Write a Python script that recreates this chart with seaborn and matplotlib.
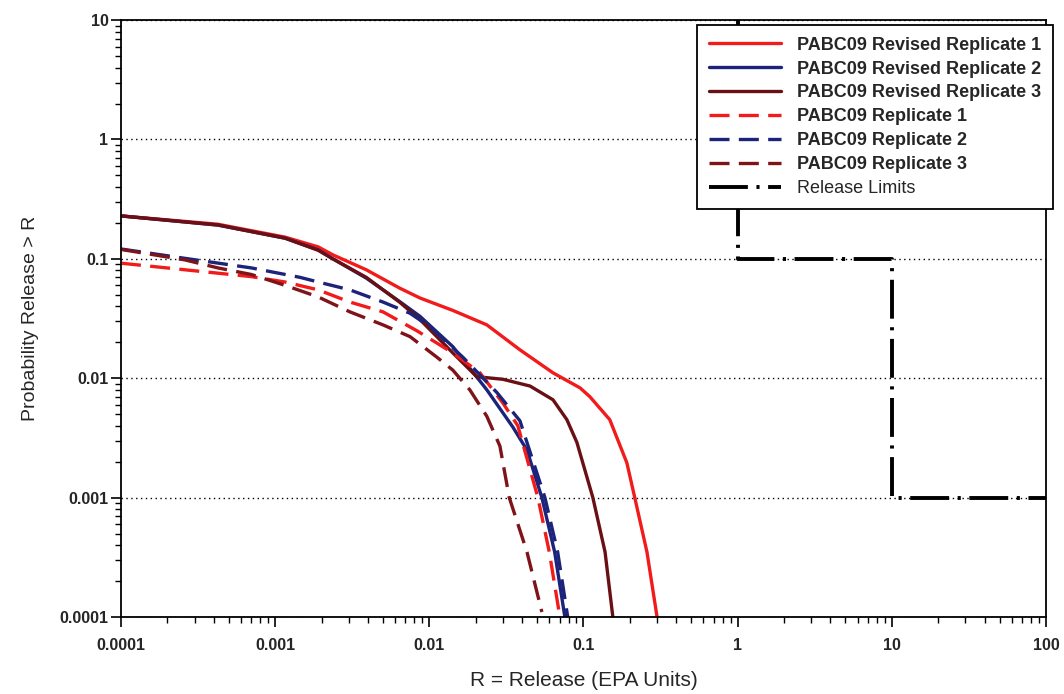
import matplotlib
matplotlib.use("Agg")
import matplotlib.pyplot as plt
import matplotlib.ticker as mticker
import seaborn as sns

# values (x = release, y = probability release > R)
rev1_x = [1e-4, 4.25e-4, 1.16e-3, 1.9e-3, 2.37e-3, 3.9e-3, 6.4e-3, 8.7e-3, 1.42e-2,
          2.36e-2, 3.87e-2, 6.34e-2, 9.5e-2, 1.1e-1, 1.48e-1, 1.91e-1, 2.15e-1, 2.58e-1, 3.0e-1]
rev1_y = [0.229, 0.195, 0.152, 0.126, 0.108, 0.081, 0.057, 0.047, 0.037,
          0.028, 0.0173, 0.0111, 0.0083, 0.0070, 0.0045, 0.00196, 0.001, 0.00035, 0.0001]

rev2_x = [1e-4, 4.25e-4, 1.16e-3, 1.9e-3, 2.37e-3, 3.9e-3, 6.4e-3, 8.7e-3, 1.42e-2,
          2.36e-2, 3.48e-2, 4.3e-2, 5.37e-2, 6.5e-2, 7.57e-2]
rev2_y = [0.229, 0.192, 0.149, 0.119, 0.100, 0.069, 0.044, 0.033, 0.0184,
          0.008, 0.0039, 0.0025, 0.001, 0.00035, 0.0001]

rev3_x = [1e-4, 4.25e-4, 1.16e-3, 1.9e-3, 2.37e-3, 3.9e-3, 6.4e-3, 8.7e-3, 1.42e-2,
          2.03e-2, 3.0e-2, 4.5e-2, 6.34e-2, 7.8e-2, 9.06e-2, 1.15e-1, 1.38e-1, 1.55e-1]
rev3_y = [0.229, 0.192, 0.149, 0.118, 0.100, 0.070, 0.0435, 0.031, 0.0163,
          0.0103, 0.0098, 0.0086, 0.0066, 0.0045, 0.0029, 0.001, 0.00035, 0.0001]

rep1_x = [1e-4, 2.6e-4, 7e-4, 1.16e-3, 1.9e-3, 3.05e-3, 5e-3, 8.3e-3, 1.42e-2,
          2.13e-2, 3.0e-2, 3.75e-2, 5.06e-2, 6.0e-2, 7.03e-2]
rep1_y = [0.092, 0.081, 0.071, 0.064, 0.055, 0.0435, 0.036, 0.025, 0.0163,
          0.0111, 0.0062, 0.004, 0.001, 0.00035, 0.0001]

rep2_x = [1e-4, 2.6e-4, 7e-4, 1.45e-3, 1.9e-3, 3.05e-3, 5e-3, 7.5e-3, 1.01e-2,
          1.65e-2, 2.74e-2, 3.87e-2, 5.62e-2, 6.8e-2, 7.9e-2]
rep2_y = [0.121, 0.101, 0.084, 0.070, 0.064, 0.055, 0.0435, 0.035, 0.027,
          0.015, 0.0076, 0.0044, 0.001, 0.00035, 0.0001]

rep3_x = [1e-4, 2.6e-4, 4.25e-4, 7e-4, 1.16e-3, 1.9e-3, 3.05e-3, 5e-3, 7.5e-3,
          1.12e-2, 1.42e-2, 1.83e-2, 2.36e-2, 2.87e-2, 3.3e-2, 4.3e-2, 5.37e-2]
rep3_y = [0.120, 0.098, 0.084, 0.074, 0.060, 0.048, 0.036, 0.028, 0.0223,
          0.015, 0.0117, 0.008, 0.0048, 0.0027, 0.001, 0.00035, 0.00011]

limit_x = [1, 1, 10, 10, 100]
limit_y = [10, 0.1, 0.1, 0.001, 0.001]

tick_vals = [1e-4, 1e-3, 1e-2, 1e-1, 1, 10, 100]
x_tick_labels = ["0.0001", "0.001", "0.01", "0.1", "1", "10", "100"]
y_tick_vals = [1e-4, 1e-3, 1e-2, 1e-1, 1, 10]
y_tick_labels = ["0.0001", "0.001", "0.01", "0.1", "1", "10"]

sns.set_style("ticks")
plt.rcParams['font.family'] = ['Liberation Sans', 'DejaVu Sans']

fig = plt.figure(figsize=(10.64, 6.94), dpi=100)
ax = fig.add_axes([0.1137, 0.111, 0.8694, 0.860])

series = [
    (rev1_x, rev1_y, "PABC09 Revised Replicate 1", "#f21b1b", "-"),
    (rev2_x, rev2_y, "PABC09 Revised Replicate 2", "#1c237a", "-"),
    (rev3_x, rev3_y, "PABC09 Revised Replicate 3", "#6a1014", "-"),
    (rep1_x, rep1_y, "PABC09 Replicate 1", "#f21b1b", (0, (6, 2.8))),
    (rep2_x, rep2_y, "PABC09 Replicate 2", "#1c237a", (0, (6, 2.8))),
    (rep3_x, rep3_y, "PABC09 Replicate 3", "#7e1419", (0, (6, 2.8))),
]
for xs, ys, name, col, ls in series:
    sns.lineplot(x=xs, y=ys, ax=ax, color=col, linestyle=ls, linewidth=2.4,
                 label=name, sort=False, estimator=None)

sns.lineplot(x=limit_x, y=limit_y, ax=ax, color="black", linestyle=(0, (10, 2.2, 0.8, 2.2)),
             linewidth=2.8, label="Release Limits", sort=False, estimator=None)

ax.set_xscale("log")
ax.set_yscale("log")
ax.set_xlim(1e-4, 100)
ax.set_ylim(1e-4, 10)

ax.set_xticks(tick_vals)
ax.set_xticklabels(x_tick_labels)
ax.set_yticks(y_tick_vals)
ax.set_yticklabels(y_tick_labels)
ax.xaxis.set_minor_locator(mticker.LogLocator(base=10, subs=range(2, 10), numticks=20))
ax.yaxis.set_minor_locator(mticker.LogLocator(base=10, subs=range(2, 10), numticks=20))
ax.xaxis.set_minor_formatter(mticker.NullFormatter())
ax.yaxis.set_minor_formatter(mticker.NullFormatter())

ax.tick_params(axis="both", which="major", direction="out", length=7, width=1.2,
               labelsize=11.5, color="black")
ax.tick_params(axis="both", which="minor", direction="out", length=4, width=1.0, color="black")
for lab in ax.get_xticklabels() + ax.get_yticklabels():
    lab.set_fontweight("bold")
ax.tick_params(axis="x", which="major", pad=8)
ax.tick_params(axis="y", which="major", pad=2)

ax.yaxis.grid(True, which="major", linestyle=(0, (1, 2.5)), color="black", linewidth=1.0)
ax.xaxis.grid(False)

for sp in ax.spines.values():
    sp.set_color("black")
    sp.set_linewidth(1.3)
    sp.set_visible(True)

ax.set_xlabel("R = Release (EPA Units)", fontsize=15, labelpad=13)
ax.set_ylabel("Probability Release > R", fontsize=14, labelpad=15)

leg = ax.legend(loc="upper right", bbox_to_anchor=(0.99, 0.964), bbox_transform=fig.transFigure,
                prop={"weight": "bold", "size": 13}, frameon=True, fancybox=False,
                framealpha=1, edgecolor="black", handlelength=4.0, handletextpad=0.9,
                labelspacing=0.38, borderpad=0.65, borderaxespad=0)
leg.get_frame().set_linewidth(1.3)
leg.set_zorder(10)
for text in leg.get_texts()[-1:]:
    text.set_fontweight("normal")

fig.savefig("out.png", dpi=100)
